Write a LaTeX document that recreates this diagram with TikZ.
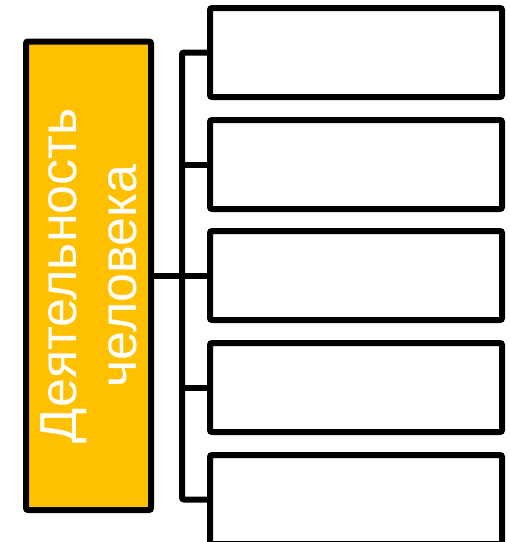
\documentclass[tikz,border=0pt]{standalone}
\usepackage{fontspec}
\setmainfont{Liberation Sans}
\definecolor{gold}{HTML}{FFC000}
\begin{document}
\begin{tikzpicture}[x=1pt,y=-1pt,
  edge/.style={line width=6pt, rounded corners=2pt},
  leaf/.style={draw=black, line width=6pt, fill=white, rounded corners=2pt, minimum width=292pt, minimum height=89pt, inner sep=0pt, outer sep=0pt, anchor=north west},
  root/.style={draw=black, line width=6pt, fill=gold, rounded corners=2pt, minimum width=125pt, minimum height=468.5pt, inner sep=0pt, outer sep=0pt, anchor=north west}]
\useasboundingbox (0,0) rectangle (510,542);
\node[root] (r) at (26,41.5) {};
\node[rotate=90, text=white, font=\fontsize{52}{60}\selectfont, align=center] (t) at (r.center) {Деятельность\\человека};
\node[leaf] (b1) at (210,8) {};
\node[leaf] (b2) at (210,120) {};
\node[leaf] (b3) at (210,231) {};
\node[leaf] (b4) at (210,343) {};
\node[leaf] (b5) at (210,455) {};
\coordinate (j) at (182,275);
\draw[edge] (b1.west) -- (b1.west -| j) -- (b5.west -| j) -- (b5.west);
\draw[edge] (b2.west) -- (b2.west -| j);
\draw[edge] (b4.west) -- (b4.west -| j);
\draw[edge] (r.east |- b3.west) -- (b3.west);
\end{tikzpicture}
\end{document}
